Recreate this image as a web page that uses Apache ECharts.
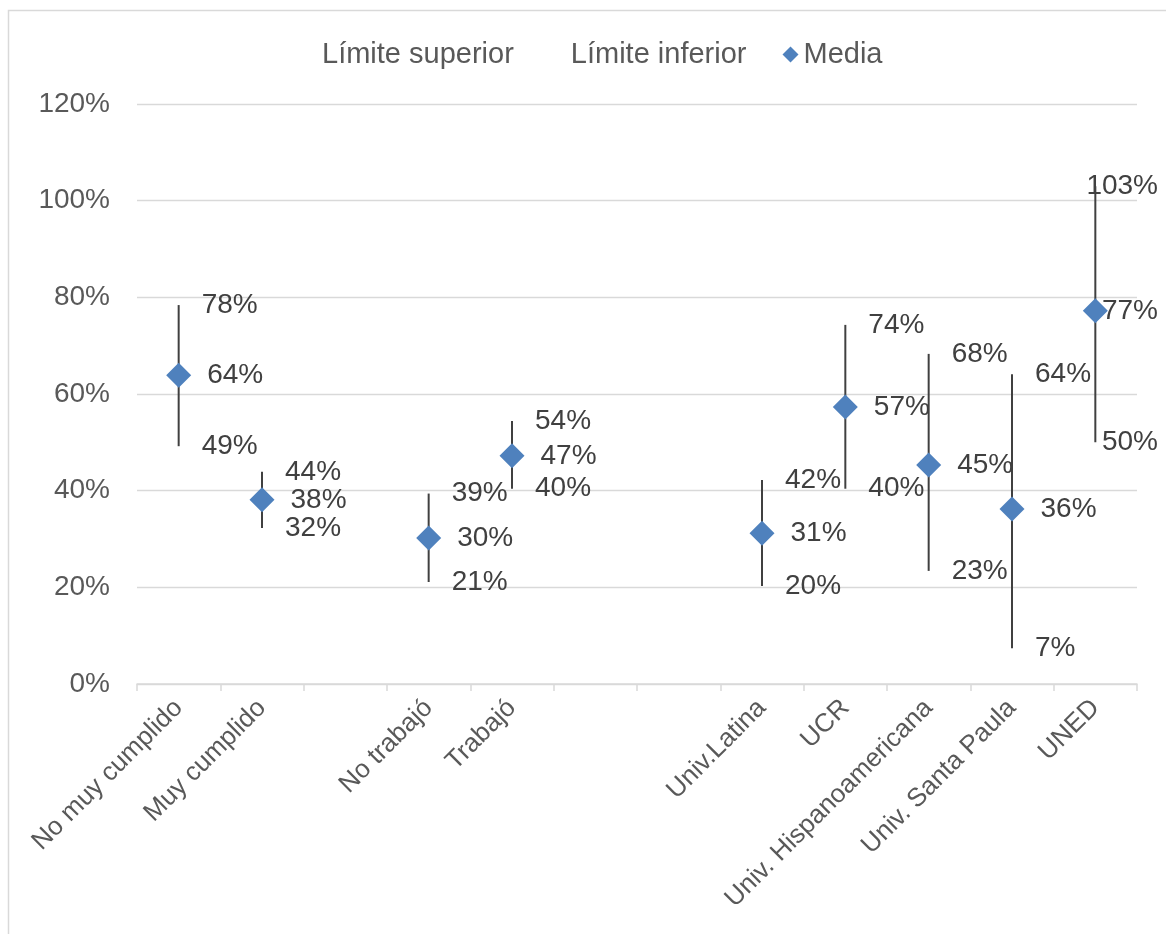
<!DOCTYPE html>
<html>
<head>
<meta charset="utf-8">
<script src="https://cdn.jsdelivr.net/npm/echarts@6/dist/echarts.min.js"></script>
<style>
html,body{margin:0;padding:0;background:#fff;}
#chart{width:1166px;height:934px;}
</style>
</head>
<body>
<div id="chart"></div>
<script>
const categories = ['No muy cumplido', 'Muy cumplido', '', 'No trabajó', 'Trabajó', '', '', 'Univ.Latina', 'UCR', 'Univ. Hispanoamericana', 'Univ. Santa Paula', 'UNED'];
const limiteSuperior = [0.784, 0.439, null, 0.394, 0.544, null, null, 0.422, 0.743, 0.683, 0.641, 1.03];
const limiteInferior = [0.492, 0.323, null, 0.211, 0.404, null, null, 0.203, 0.404, 0.234, 0.074, 0.50];
const media = [0.639, 0.381, null, 0.302, 0.472, null, null, 0.312, 0.573, 0.453, 0.362, 0.772];
const yTicks = [0, 0.2, 0.4, 0.6, 0.8, 1.0, 1.2];

const FONT = 'Liberation Sans, Arial, sans-serif';
const pct = v => Math.round(v * 100) + '%';

const errorBars = categories.map((c, i) => [i, limiteSuperior[i], limiteInferior[i]])
  .filter(d => d[1] != null && d[2] != null);

const chart = echarts.init(document.getElementById('chart'), null, {renderer: 'canvas'});

const RIGHT_LIMIT = 1158;
function clampLayout(params) {
  const r = params.labelRect;
  if (r.x + r.width > RIGHT_LIMIT) {
    return { x: RIGHT_LIMIT - r.width, y: r.y + r.height / 2, align: 'left', verticalAlign: 'middle' };
  }
  return {};
}

const labelBase = {
  show: true,
  position: 'right',
  color: '#404040',
  fontSize: 28,
  fontFamily: FONT,
  formatter: p => pct(p.value[1])
};

chart.setOption({
  animation: false,
  backgroundColor: '#ffffff',
  textStyle: { fontFamily: FONT },
  graphic: [{
    type: 'rect',
    shape: { x: 8.5, y: 10.5, width: 1300, height: 1000 },
    style: { fill: 'none', stroke: '#d9d9d9', lineWidth: 1.5 },
    silent: true, z: -10
  }],
  legend: {
    top: 35,
    left: 296,
    itemWidth: 16,
    itemHeight: 16,
    itemGap: 36,
    textStyle: { fontSize: 29, color: '#595959', fontFamily: FONT },
    data: [
      { name: 'Límite superior', icon: 'none' },
      { name: 'Límite inferior', icon: 'none' },
      { name: 'Media', icon: 'diamond' }
    ]
  },
  grid: { left: 137, right: 29, top: 104, bottom: 250, containLabel: false },
  xAxis: {
    type: 'category',
    data: categories,
    boundaryGap: true,
    axisLine: { show: true, lineStyle: { color: '#d9d9d9', width: 1.5 } },
    axisTick: { show: true, length: 7, lineStyle: { color: '#d9d9d9', width: 1.5 }, interval: 0 },
    axisLabel: {
      interval: 0, rotate: 45, fontSize: 26, color: '#595959', fontFamily: FONT,
      margin: 20
    },
    splitLine: { show: false }
  },
  yAxis: {
    type: 'value',
    min: yTicks[0],
    max: yTicks[yTicks.length - 1],
    interval: 0.2,
    axisLine: { show: false },
    axisTick: { show: false },
    axisLabel: { formatter: v => Math.round(v * 100) + '%', fontSize: 28, color: '#595959', fontFamily: FONT, margin: 27 },
    splitLine: { lineStyle: { color: '#d9d9d9', width: 1.3 } }
  },
  series: [
    {
      name: 'Límite superior',
      type: 'scatter',
      symbol: 'circle',
      symbolSize: 0.01,
      itemStyle: { color: 'rgba(0,0,0,0)', opacity: 1 },
      data: limiteSuperior.map((v, i) => v == null ? null : [i, v]).filter(d => d),
      label: Object.assign({}, labelBase, { distance: 23 }),
      labelLayout: clampLayout,
      z: 4
    },
    {
      name: 'Límite inferior',
      type: 'scatter',
      symbol: 'circle',
      symbolSize: 0.01,
      itemStyle: { color: 'rgba(0,0,0,0)', opacity: 1 },
      data: limiteInferior.map((v, i) => v == null ? null : [i, v]).filter(d => d),
      label: Object.assign({}, labelBase, { distance: 23 }),
      labelLayout: clampLayout,
      z: 4
    },
    {
      name: 'error',
      type: 'custom',
      data: errorBars,
      renderItem: function (params, api) {
        const p1 = api.coord([api.value(0), api.value(1)]);
        const p2 = api.coord([api.value(0), api.value(2)]);
        return {
          type: 'line',
          shape: { x1: p1[0], y1: p1[1], x2: p2[0], y2: p2[1] },
          style: { stroke: '#404040', lineWidth: 2 }
        };
      },
      z: 2,
      silent: true
    },
    {
      name: 'Media',
      type: 'scatter',
      symbol: 'diamond',
      symbolSize: 25,
      itemStyle: { color: '#4f81bd', opacity: 1 },
      data: media.map((v, i) => v == null ? null : [i, v]).filter(d => d),
      label: Object.assign({}, labelBase, { distance: 16 }),
      labelLayout: clampLayout,
      z: 3
    }
  ]
});
</script>
</body>
</html>
